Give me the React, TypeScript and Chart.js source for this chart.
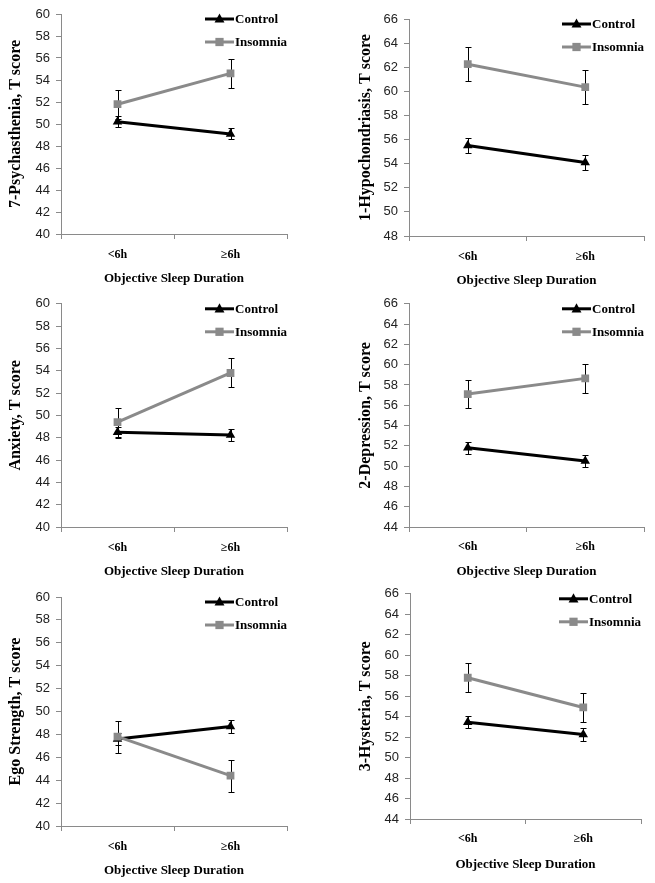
import React, { useEffect, useRef } from 'react';
import { Chart, registerables } from 'chart.js';

Chart.register(...registerables);

// ---------- data ----------
const categories = ['<6h', '≥6h'];
const seriesNames = ['Control', 'Insomnia'];
const xAxisTitle = 'Objective Sleep Duration';

const psychTitle = '7-Psychasthenia, T score';
const psychControl = [50.2, 49.1];
const psychControlErr = [0.5, 0.5];
const psychInsomnia = [51.8, 54.6];
const psychInsomniaErr = [1.3, 1.3];
const psychTicks = [40, 60];

const hypoTitle = '1-Hypochondriasis, T score';
const hypoControl = [55.5, 54.1];
const hypoControlErr = [0.6, 0.6];
const hypoInsomnia = [62.25, 60.35];
const hypoInsomniaErr = [1.4, 1.4];
const hypoTicks = [48, 66];

const anxTitle = 'Anxiety, T score';
const anxControl = [48.5, 48.25];
const anxControlErr = [0.5, 0.55];
const anxInsomnia = [49.4, 53.8];
const anxInsomniaErr = [1.3, 1.3];
const anxTicks = [40, 60];

const depTitle = '2-Depression, T score';
const depControl = [51.8, 50.5];
const depControlErr = [0.6, 0.6];
const depInsomnia = [57.1, 58.65];
const depInsomniaErr = [1.4, 1.4];
const depTicks = [44, 66];

const egoTitle = 'Ego Strength, T score';
const egoControl = [47.6, 48.7];
const egoControlErr = [0.5, 0.6];
const egoInsomnia = [47.8, 44.4];
const egoInsomniaErr = [1.4, 1.4];
const egoTicks = [40, 60];

const hystTitle = '3-Hysteria, T score';
const hystControl = [53.45, 52.25];
const hystControlErr = [0.6, 0.6];
const hystInsomnia = [57.8, 54.9];
const hystInsomniaErr = [1.4, 1.4];
const hystTicks = [44, 66];

const tickStep = 2;

// ---------- styles / layout ----------
const CONTROL_COLOR = '#000000';
const INSOMNIA_COLOR = '#8a8a8a';
const AXIS_COLOR = '#8a8a8a';
const SERIF = '"Liberation Serif", "Times New Roman", serif';
const SANS = '"Liberation Sans", Arial, sans-serif';

type Box = {
  x: number; y: number; w: number; h: number;
  L: number; T: number; R: number; B: number;
  tickY: number; titleY: number; yTitleX: number;
};

type PanelDef = {
  title: string;
  control: number[]; controlErr: number[];
  insomnia: number[]; insomniaErr: number[];
  range: number[];
  box: Box;
};

const panels: PanelDef[] = [
  { title: psychTitle, control: psychControl, controlErr: psychControlErr, insomnia: psychInsomnia, insomniaErr: psychInsomniaErr, range: psychTicks,
    box: { x: 0, y: 0, w: 330, h: 290, L: 61, T: 14, R: 287, B: 234, tickY: 255, titleY: 279, yTitleX: 16 } },
  { title: hypoTitle, control: hypoControl, controlErr: hypoControlErr, insomnia: hypoInsomnia, insomniaErr: hypoInsomniaErr, range: hypoTicks,
    box: { x: 330, y: 0, w: 325, h: 290, L: 409, T: 19, R: 644, B: 236, tickY: 257, titleY: 281, yTitleX: 366 } },
  { title: anxTitle, control: anxControl, controlErr: anxControlErr, insomnia: anxInsomnia, insomniaErr: anxInsomniaErr, range: anxTicks,
    box: { x: 0, y: 290, w: 330, h: 290, L: 61, T: 298, R: 287, B: 527, tickY: 548, titleY: 572, yTitleX: 16 } },
  { title: depTitle, control: depControl, controlErr: depControlErr, insomnia: depInsomnia, insomniaErr: depInsomniaErr, range: depTicks,
    box: { x: 330, y: 290, w: 325, h: 290, L: 409, T: 299, R: 644, B: 527, tickY: 547, titleY: 572, yTitleX: 366 } },
  { title: egoTitle, control: egoControl, controlErr: egoControlErr, insomnia: egoInsomnia, insomniaErr: egoInsomniaErr, range: egoTicks,
    box: { x: 0, y: 580, w: 330, h: 303, L: 61, T: 597, R: 287, B: 826, tickY: 847, titleY: 871, yTitleX: 16 } },
  { title: hystTitle, control: hystControl, controlErr: hystControlErr, insomnia: hystInsomnia, insomniaErr: hystInsomniaErr, range: hystTicks,
    box: { x: 330, y: 580, w: 325, h: 303, L: 410, T: 590, R: 641, B: 819, tickY: 839, titleY: 865, yTitleX: 366 } },
];

// ---------- plugins ----------
const errorBarPlugin = {
  id: 'errorBars',
  beforeDatasetsDraw(chart: any) {
    const ctx = chart.ctx;
    const yScale = chart.scales.y;
    chart.data.datasets.forEach((ds: any, di: number) => {
      const meta = chart.getDatasetMeta(di);
      meta.data.forEach((pt: any, i: number) => {
        const v = ds.data[i];
        const e = ds.errors[i];
        const x = Math.round(pt.x) + 0.5;
        const yT = Math.round(yScale.getPixelForValue(v + e)) + 0.5;
        const yB = Math.round(yScale.getPixelForValue(v - e)) + 0.5;
        ctx.save();
        ctx.strokeStyle = '#000';
        ctx.lineWidth = 1;
        ctx.beginPath();
        ctx.moveTo(x, yT); ctx.lineTo(x, yB);
        ctx.moveTo(x - 3, yT); ctx.lineTo(x + 3, yT);
        ctx.moveTo(x - 3, yB); ctx.lineTo(x + 3, yB);
        ctx.stroke();
        ctx.restore();
      });
    });
  },
};

function drawMarker(ctx: CanvasRenderingContext2D, style: string, x: number, y: number, r: number, color: string) {
  ctx.fillStyle = color;
  ctx.beginPath();
  if (style === 'triangle') {
    ctx.moveTo(x, y - r);
    ctx.lineTo(x + r * 0.9, y + r * 0.65);
    ctx.lineTo(x - r * 0.9, y + r * 0.65);
    ctx.closePath();
  } else {
    const s = r * 0.75;
    ctx.rect(x - s, y - s, 2 * s, 2 * s);
  }
  ctx.fill();
}

const legendPlugin = {
  id: 'lineLegend',
  afterDraw(chart: any) {
    const { ctx, chartArea } = chart;
    const ordered = [...chart.data.datasets].sort((a: any, b: any) => a.legendIndex - b.legendIndex);
    ordered.forEach((ds: any, i: number) => {
      const y = chartArea.top + 5 + i * 23;
      const x0 = chartArea.right - 82;
      ctx.save();
      ctx.strokeStyle = ds.borderColor;
      ctx.lineWidth = 3;
      ctx.beginPath();
      ctx.moveTo(x0, y);
      ctx.lineTo(x0 + 29, y);
      ctx.stroke();
      drawMarker(ctx, ds.pointStyle, x0 + 14.5, y, 5.5, ds.borderColor);
      ctx.fillStyle = '#000';
      ctx.font = `bold 13px ${SERIF}`;
      ctx.textBaseline = 'middle';
      ctx.textAlign = 'left';
      ctx.fillText(ds.label, x0 + 30, y + 0.5);
      ctx.restore();
    });
  },
};

// ---------- chart component ----------
function Panel({ def }: { def: PanelDef }) {
  const ref = useRef<HTMLCanvasElement>(null);
  useEffect(() => {
    if (!ref.current) return;
    const b = def.box;
    const yAxisWidth = b.L - b.x;
    const xAxisHeight = b.y + b.h - b.B;
    const tickFont = 12;
    const titleFont = 13;
    const yTitleFont = 16;
    const chart = new Chart(ref.current, {
      type: 'line',
      data: {
        labels: categories,
        datasets: [
          {
            label: seriesNames[0],
            data: def.control,
            errors: def.controlErr,
            legendIndex: 0,
            borderColor: CONTROL_COLOR,
            backgroundColor: CONTROL_COLOR,
            borderWidth: 3,
            pointStyle: 'triangle',
            pointRadius: 5.5,
            pointBorderWidth: 0,
            tension: 0,
            order: 1,
          } as any,
          {
            label: seriesNames[1],
            data: def.insomnia,
            errors: def.insomniaErr,
            legendIndex: 1,
            borderColor: INSOMNIA_COLOR,
            backgroundColor: INSOMNIA_COLOR,
            borderWidth: 3,
            pointStyle: 'rect',
            pointRadius: 5.5,
            pointBorderWidth: 0,
            tension: 0,
            order: 0,
          } as any,
        ],
      },
      options: {
        animation: false,
        responsive: false,
        maintainAspectRatio: false,
        events: [],
        layout: {
          padding: { left: 0, top: b.T - b.y, right: b.x + b.w - b.R, bottom: 0 },
        },
        plugins: {
          legend: { display: false },
          tooltip: { enabled: false },
        },
        scales: {
          x: {
            type: 'category',
            offset: true,
            grid: {
              display: true,
              offset: true,
              drawOnChartArea: false,
              drawTicks: true,
              tickLength: 5,
              color: AXIS_COLOR,
            },
            border: { display: true, color: AXIS_COLOR, width: 1 },
            ticks: {
              color: '#000',
              font: { family: SERIF, weight: 'bold', size: tickFont },
              padding: b.tickY - b.B - 5 - tickFont * 0.6,
              maxRotation: 0,
            },
            title: {
              display: true,
              text: xAxisTitle,
              color: '#000',
              font: { family: SERIF, weight: 'bold', size: titleFont },
              padding: { top: 0, bottom: b.y + b.h - b.titleY - titleFont * 0.6 },
            },
            afterFit: (s: any) => { s.height = xAxisHeight; },
          },
          y: {
            min: def.range[0],
            max: def.range[1],
            ticks: {
              stepSize: tickStep,
              color: '#222',
              font: { family: SANS, size: 13 },
              padding: 6,
            },
            grid: {
              display: true,
              drawOnChartArea: false,
              drawTicks: true,
              tickLength: 5,
              color: AXIS_COLOR,
            },
            border: { display: true, color: AXIS_COLOR, width: 1 },
            title: {
              display: true,
              text: def.title,
              color: '#000',
              font: { family: SERIF, weight: 'bold', size: yTitleFont },
              padding: { top: b.yTitleX - b.x - yTitleFont * 0.6, bottom: 0 },
            },
            afterFit: (s: any) => { s.width = yAxisWidth; },
          },
        },
      } as any,
      plugins: [errorBarPlugin, legendPlugin],
    });
    return () => chart.destroy();
  }, [def]);
  const b = def.box;
  return (
    <canvas
      ref={ref}
      width={b.w}
      height={b.h}
      style={{ position: 'absolute', left: b.x, top: b.y, width: b.w, height: b.h }}
    />
  );
}

export default function App() {
  return (
    <div style={{ position: 'absolute', left: 0, top: 0, width: 655, height: 883, background: '#fff', overflow: 'hidden' }}>
      {panels.map((p, i) => (
        <Panel key={i} def={p} />
      ))}
    </div>
  );
}
